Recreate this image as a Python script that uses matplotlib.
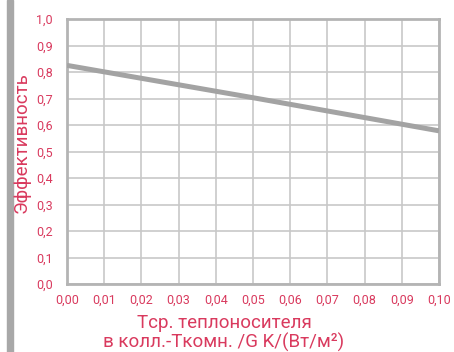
import matplotlib.pyplot as plt
from matplotlib.patches import Rectangle

x_vals = [0.00, 0.05, 0.10]
eff = [0.825, 0.703, 0.578]
x_ticks = [i / 100 for i in range(11)]
y_ticks = [i / 10 for i in range(11)]

red = '#d93a5e'
plt.rcParams['font.family'] = ['Roboto', 'DejaVu Sans']

fig = plt.figure(figsize=(4.54, 3.52), dpi=100)
ax = fig.add_axes([67 / 454, 1 - 284 / 352, 372 / 454, 265 / 352])

ax.plot(x_vals, eff, color='#a3a3a3', lw=3.6, solid_capstyle='butt', zorder=3)

ax.set_xlim(0, 0.10)
ax.set_ylim(0, 1.0)
ax.set_xticks(x_ticks)
ax.set_yticks(y_ticks)
ax.set_xticklabels([f'{v:.2f}'.replace('.', ',') for v in x_ticks])
ax.set_yticklabels([f'{v:.1f}'.replace('.', ',') for v in y_ticks])
ax.tick_params(length=0, colors=red, labelsize=9)
ax.tick_params(axis='x', pad=7)
ax.tick_params(axis='y', pad=10)
ax.grid(True, color='#c8c8c8', lw=1.2)
ax.set_axisbelow(True)
for s in ax.spines.values():
    s.set_color('#b4b4b4')
    s.set_linewidth(2)

fig.text(224 / 454, 1 - 323 / 352, 'Тср. теплоносителя', color=red, fontsize=13.5,
         ha='center', va='center')
fig.text(224 / 454, 1 - 342 / 352, 'в колл.-Ткомн. /G K/(Вт/м²)', color=red,
         fontsize=13.5, ha='center', va='center')
fig.text(22 / 454, 1 - 143 / 352, 'Эффективность', color=red, fontsize=13.5,
         rotation=90, ha='center', va='center')

# gray bar on the left edge
fig.patches.append(Rectangle((7 / 454, 0), 6 / 454, 1, transform=fig.transFigure,
                             color='#a8a8a8', zorder=0))

fig.savefig('out.png', dpi=100)
